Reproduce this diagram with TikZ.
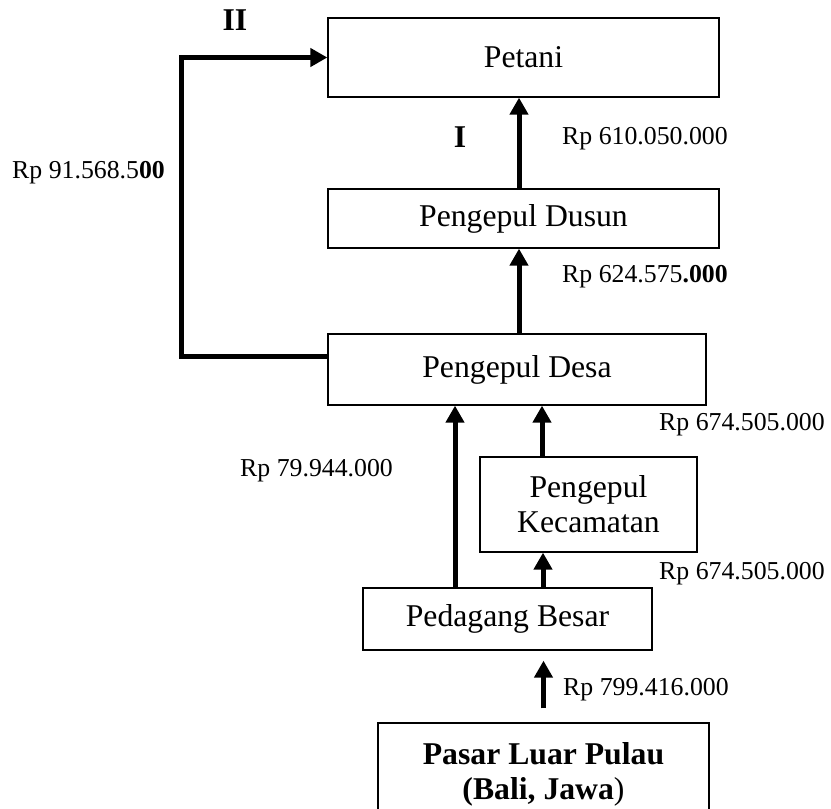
\documentclass[tikz,border=0pt]{standalone}
\usepackage{fontspec}
\setmainfont{Liberation Serif}
\usetikzlibrary{arrows.meta,calc}
\tikzset{
  stage/.style={draw,line width=1.3pt,inner sep=0pt,align=center,font=\fontsize{31.7}{35}\selectfont},
  flow/.style={-{Triangle[length=17pt,width=18pt]},line width=5pt},
  price/.style={anchor=west,inner sep=0pt,font=\fontsize{25.8}{30}\selectfont},
  route/.style={inner sep=0pt,font=\fontsize{31.7}{35}\selectfont\bfseries}
}

\begin{document}
\begin{tikzpicture}[x=1pt,y=-1pt]
  \useasboundingbox (0,0) rectangle (831,809);
  \node[stage,minimum width=391pt,minimum height=79pt] (petani) at (523.5,57.5) {Petani};
  \node[stage,minimum width=391pt,minimum height=59pt] (dusun) at (523.5,218.5) {Pengepul Dusun};
  \node[stage,minimum width=378pt,minimum height=71pt] (desa) at (517,369.5) {Pengepul Desa};
  \node[stage,minimum width=217pt,minimum height=95pt] (kecamatan) at (588.5,504.5) {Pengepul\\Kecamatan};
  \node[stage,minimum width=289pt,minimum height=62pt] (besar) at (507.5,619) {Pedagang Besar};
  \node[stage,minimum width=331pt,minimum height=103pt] (pasar) at (543.5,774.5) {\textbf{Pasar Luar Pulau}\\\textbf{(Bali, Jawa})};
  \draw[flow] ([xshift=-4.5pt]dusun.north) -- ([xshift=-4.5pt]petani.south);
  \draw[flow] ([xshift=2pt]desa.north) -- ([xshift=2pt]desa.north |- dusun.south);
  \draw[flow] ([xshift=-52.5pt]besar.north) -- ([xshift=-52.5pt]besar.north |- desa.south);
  \draw[flow] ([xshift=35.5pt]besar.north) -- ([xshift=35.5pt]besar.north |- kecamatan.south);
  \draw[flow] ([xshift=-46.5pt]kecamatan.north) -- ([xshift=-46.5pt]kecamatan.north |- desa.south);
  \draw[flow] ([yshift=14pt]pasar.north) -- ([yshift=-10pt]pasar.north |- besar.south);
  \draw[flow] ([yshift=13.5pt]desa.west) -- ++(-146,0) |- (petani.west);
  \node[route] (two) at (235,20) {II};
  \node[route] (one) at (460,137) {I};
  \node[price] (p1) at (562,139) {Rp 610.050.000};
  \node[price] (p2) at (12,173) {Rp 91.568.5\textbf{00}};
  \node[price] (p3) at (562,277) {Rp 624.575\textbf{.000}};
  \node[price] (p4) at (659,425) {Rp 674.505.000};
  \node[price] (p5) at (240,471) {Rp 79.944.000};
  \node[price] (p6) at (659,574) {Rp 674.505.000};
  \node[price] (p7) at (563,690) {Rp 799.416.000};
\end{tikzpicture}
\end{document}
